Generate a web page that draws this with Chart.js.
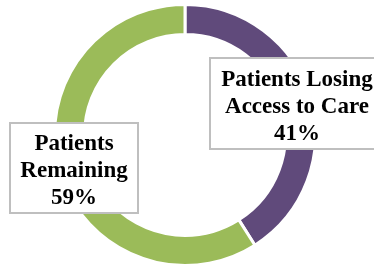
<!DOCTYPE html>
<html>
<head>
<meta charset="utf-8">
<script src="https://cdn.jsdelivr.net/npm/chart.js@4.4.0/dist/chart.umd.min.js"></script>
<style>
  html, body { margin: 0; padding: 0; background: #fff; }
  #wrap { width: 374px; height: 267px; position: relative; }
</style>
</head>
<body>
<div id="wrap"><canvas id="myChart" width="374" height="267"></canvas></div>
<script>
// data
const categories = ['Patients Losing Access to Care', 'Patients Remaining'];
const shares = [41, 59];
const labelLines = [
  ['Patients Losing', 'Access to Care'],
  ['Patients', 'Remaining']
];
const sliceColors = ['#604a7b', '#9bbb59'];

// label boxes (layout only)
const boxes = [
  { x: 210, y: 58, w: 176, h: 91, cx: 297, top: 80 },
  { x: 10, y: 123, w: 128, h: 90, cx: 74, top: 144 }
];

const labelBoxes = {
  id: 'labelBoxes',
  afterDatasetsDraw(chart) {
    const ctx = chart.ctx;
    const data = chart.data.datasets[0].data;
    ctx.save();
    boxes.forEach((b, i) => {
      ctx.fillStyle = '#ffffff';
      ctx.fillRect(b.x, b.y, b.w, b.h);
      ctx.strokeStyle = '#bfbfbf';
      ctx.lineWidth = 2;
      ctx.strokeRect(b.x, b.y, b.w, b.h);
      ctx.fillStyle = '#000';
      ctx.font = 'bold 23px "Liberation Serif"';
      ctx.textAlign = 'center';
      ctx.textBaseline = 'middle';
      let lines = labelLines[i].concat([data[i] + '%']);
      lines.forEach((t, j) => {
        ctx.fillText(t, b.cx, b.top + j * 27);
      });
    });
    ctx.restore();
  }
};

let chart = new Chart(document.getElementById('myChart'), {
  type: 'doughnut',
  data: {
    labels: categories,
    datasets: [{
      data: shares,
      backgroundColor: sliceColors,
      borderColor: '#ffffff',
      borderWidth: 3
    }]
  },
  options: {
    responsive: false,
    animation: false,
    cutout: '77%',
    layout: { padding: { top: 3, bottom: 0, left: 0, right: 4 } },
    plugins: {
      legend: { display: false },
      tooltip: { enabled: false }
    }
  },
  plugins: [labelBoxes]
});
</script>
</body>
</html>
